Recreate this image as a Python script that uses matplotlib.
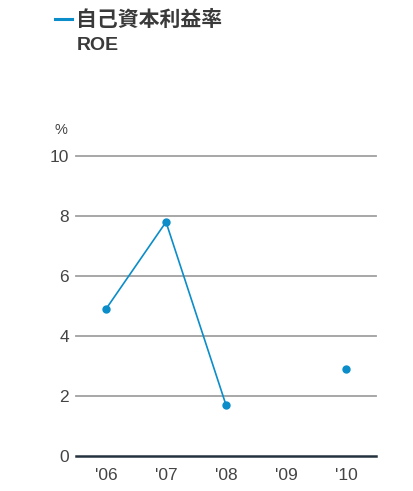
import numpy as np
import matplotlib.pyplot as plt

plt.rcParams['font.family'] = ['Liberation Sans', 'Noto Sans CJK JP']

years = ["'06", "'07", "'08", "'09", "'10"]
roe = [4.9, 7.8, 1.7, np.nan, 2.9]

blue = '#0a8dc9'
txt = '#444444'

fig = plt.figure(figsize=(4.14, 4.91), dpi=100)
ax = fig.add_axes([76 / 414, 35 / 491, 300 / 414, 300 / 491])

x = np.arange(len(years))
ax.plot(x, roe, color=blue, lw=1.2, marker='o', ms=5, zorder=3, clip_on=False)

ax.set_xlim(-0.5, 4.5)
ax.set_ylim(0, 10)
ax.set_yticks([0, 2, 4, 6, 8, 10])
ax.set_xticks(x)
ax.set_xticklabels(years)
for y in [2, 4, 6, 8, 10]:
    ax.axhline(y, color='#a0a0a0', lw=1.3, zorder=1, clip_on=False)
ax.axhline(0, color='#24323f', lw=1.8, zorder=2, clip_on=False)

for s in ax.spines.values():
    s.set_visible(False)
ax.tick_params(length=0, labelsize=12.5, colors=txt)
ax.tick_params(axis='y', pad=5)
ax.tick_params(axis='x', pad=9)

fig.text(55 / 414, 1 - 130 / 491, '%', fontsize=10.5, color=txt,
         ha='left', va='center')

# heading with legend dash
fig.add_artist(plt.Line2D([55 / 414, 72 / 414], [1 - 19 / 491] * 2,
                          color=blue, lw=2.2))
fig.text(76 / 414, 1 - 19 / 491, '自己資本利益率', fontsize=15,
         fontweight='bold', color='#3a3a3a', ha='left', va='center',
         family=['Noto Sans CJK JP'])
fig.text(77 / 414, 1 - 45 / 491, 'ROE', fontsize=14, fontweight='bold',
         color='#3a3a3a', ha='left', va='center')

fig.savefig('out.png', dpi=100)
